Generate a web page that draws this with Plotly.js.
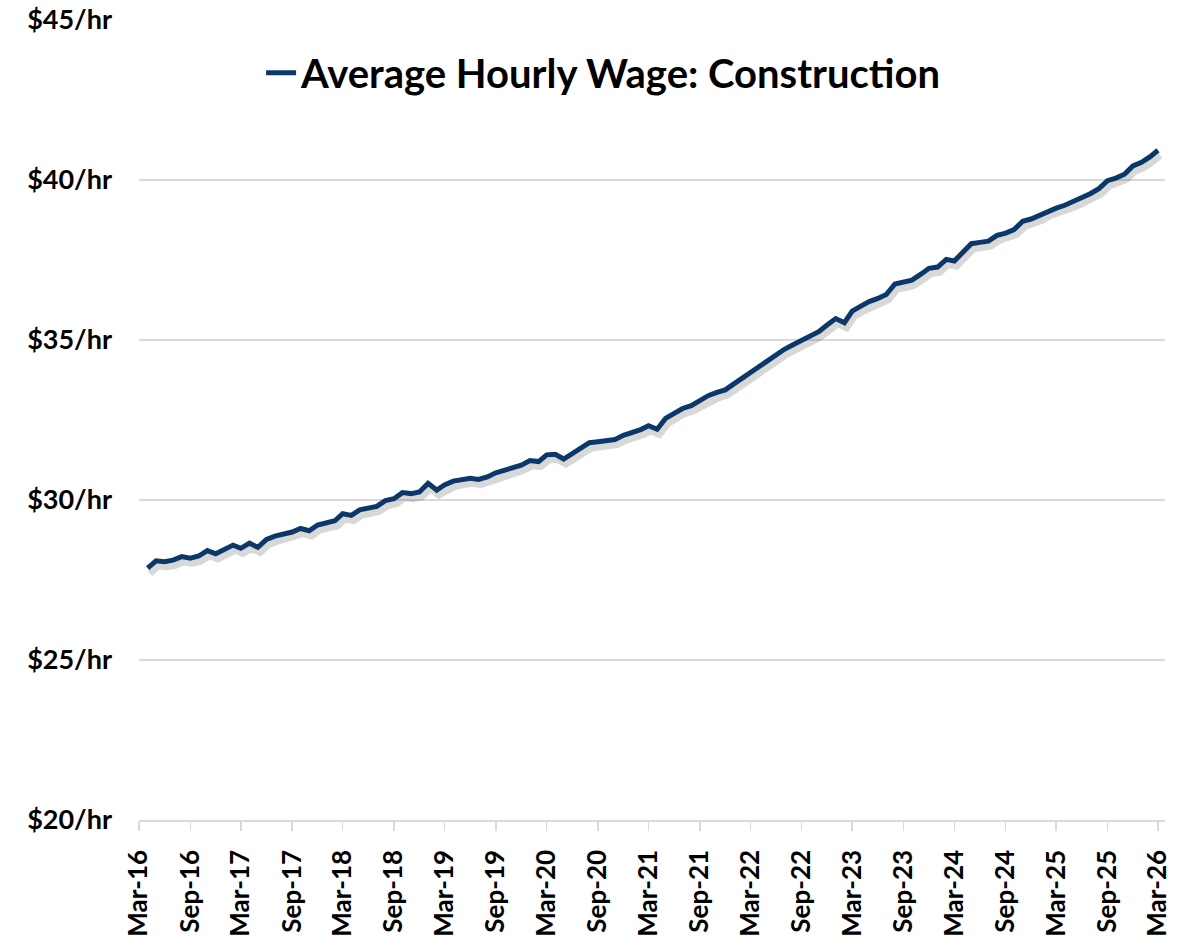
<!DOCTYPE html>
<html>
<head>
<meta charset="utf-8">
<script src="https://cdn.plot.ly/plotly-3.0.1.min.js"></script>
<style>
  html, body { margin: 0; padding: 0; background: #ffffff; }
  #chart { width: 1198px; height: 941px; }
</style>
</head>
<body>
<div id="chart"></div>
<script>
// Monthly observations, Apr-2016 .. Mar-2026
const months = [
  '2016-04','2016-05','2016-06','2016-07','2016-08','2016-09','2016-10','2016-11','2016-12',
  '2017-01','2017-02','2017-03','2017-04','2017-05','2017-06','2017-07','2017-08','2017-09','2017-10','2017-11','2017-12',
  '2018-01','2018-02','2018-03','2018-04','2018-05','2018-06','2018-07','2018-08','2018-09','2018-10','2018-11','2018-12',
  '2019-01','2019-02','2019-03','2019-04','2019-05','2019-06','2019-07','2019-08','2019-09','2019-10','2019-11','2019-12',
  '2020-01','2020-02','2020-03','2020-04','2020-05','2020-06','2020-07','2020-08','2020-09','2020-10','2020-11','2020-12',
  '2021-01','2021-02','2021-03','2021-04','2021-05','2021-06','2021-07','2021-08','2021-09','2021-10','2021-11','2021-12',
  '2022-01','2022-02','2022-03','2022-04','2022-05','2022-06','2022-07','2022-08','2022-09','2022-10','2022-11','2022-12',
  '2023-01','2023-02','2023-03','2023-04','2023-05','2023-06','2023-07','2023-08','2023-09','2023-10','2023-11','2023-12',
  '2024-01','2024-02','2024-03','2024-04','2024-05','2024-06','2024-07','2024-08','2024-09','2024-10','2024-11','2024-12',
  '2025-01','2025-02','2025-03','2025-04','2025-05','2025-06','2025-07','2025-08','2025-09','2025-10','2025-11','2025-12',
  '2026-01','2026-02','2026-03'
];

// Average hourly wage, construction ($/hr) (one row per year)
const wages = [
  27.87, 28.10, 28.07, 28.12, 28.23, 28.18, 28.25, 28.42, 28.32,
  28.45, 28.59, 28.49, 28.65, 28.52, 28.77, 28.87, 28.94, 29.00, 29.11, 29.04, 29.22,
  29.29, 29.35, 29.57, 29.52, 29.69, 29.74, 29.80, 29.98, 30.04, 30.23, 30.20, 30.25,
  30.52, 30.31, 30.47, 30.59, 30.64, 30.68, 30.64, 30.72, 30.85, 30.92, 30.98, 31.09,
  31.23, 31.20, 31.41, 31.43, 31.28, 31.46, 31.62, 31.79, 31.82, 31.84, 31.89, 32.02,
  32.10, 32.20, 32.32, 32.21, 32.55, 32.73, 32.86, 32.95, 33.10, 33.26, 33.36, 33.44,
  33.63, 33.82, 33.96, 34.14, 34.33, 34.52, 34.71, 34.85, 34.98, 35.12, 35.26, 35.47,
  35.67, 35.54, 35.90, 36.06, 36.20, 36.30, 36.42, 36.75, 36.80, 36.87, 37.05, 37.24,
  37.28, 37.52, 37.47, 37.72, 38.01, 38.05, 38.09, 38.27, 38.34, 38.45, 38.71, 38.78,
  38.90, 39.05, 39.12, 39.21, 39.32, 39.45, 39.57, 39.73, 39.98, 40.06, 40.18, 40.44,
  40.55, 40.73, 40.93
];

const seriesName = 'Average Hourly Wage: Construction';

const tickVals = [
  '2016-03-01','2016-09-01','2017-03-01','2017-09-01','2018-03-01','2018-09-01',
  '2019-03-01','2019-09-01','2020-03-01','2020-09-01','2021-03-01','2021-09-01',
  '2022-03-01','2022-09-01','2023-03-01','2023-09-01','2024-03-01','2024-09-01',
  '2025-03-01','2025-09-01','2026-03-01'
];
const tickText = [
  'Mar-16','Sep-16','Mar-17','Sep-17','Mar-18','Sep-18',
  'Mar-19','Sep-19','Mar-20','Sep-20','Mar-21','Sep-21',
  'Mar-22','Sep-22','Mar-23','Sep-23','Mar-24','Sep-24',
  'Mar-25','Sep-25','Mar-26'
];
const yTicks = [20, 25, 30, 35, 40, 45];
const yTickText = ['$20/hr', '$25/hr', '$30/hr', '$35/hr', '$40/hr', '$45/hr'];

const xRange = ['2016-03-01', '2026-03-26'];
const yRange = [20, 45];

const FONT = 'Lato, "Open Sans", "DejaVu Sans", sans-serif';

const shadow = {
  x: months, y: wages, type: 'scatter', mode: 'lines',
  xaxis: 'x2', yaxis: 'y2',
  line: { color: 'rgba(60,60,60,0.20)', width: 7, shape: 'linear' },
  showlegend: false, hoverinfo: 'skip'
};
const main = {
  x: months, y: wages, type: 'scatter', mode: 'lines',
  name: seriesName,
  line: { color: '#0b386a', width: 5 }
};

const layout = {
  width: 1198, height: 941,
  margin: { l: 139, r: 33, t: 20, b: 121 },
  paper_bgcolor: '#ffffff', plot_bgcolor: '#ffffff',
  font: { family: FONT, color: '#000000' },
  showlegend: true,
  legend: {
    x: 0.119, y: 0.934, xanchor: 'left', yanchor: 'middle',
    bgcolor: 'rgba(0,0,0,0)',
    font: { family: FONT, size: 40, color: '#000000', weight: 'bold' }
  },
  xaxis: {
    type: 'date', range: xRange,
    tickmode: 'array', tickvals: tickVals, ticktext: tickText,
    tickangle: -90,
    tickfont: { family: FONT, size: 26, color: '#000000', weight: 'bold' },
    ticks: 'outside', ticklen: 9, tickwidth: 1.5, tickcolor: '#d9d9d9',
    showline: true, linecolor: '#d9d9d9', linewidth: 1.5,
    showgrid: false, zeroline: false,
    ticklabelstandoff: 9
  },
  yaxis: {
    range: yRange,
    tickmode: 'array', tickvals: yTicks, ticktext: yTickText,
    tickfont: { family: FONT, size: 27, color: '#000000', weight: 'bold' },
    showgrid: true, gridcolor: '#d9d9d9', gridwidth: 1.5,
    showline: false, zeroline: false, ticks: '',
    ticklabelstandoff: 26
  },
  xaxis2: {
    type: 'date', overlaying: 'x', visible: false,
    range: ['2016-02-22', '2026-03-18']
  },
  yaxis2: {
    overlaying: 'y', visible: false,
    range: [20.16, 45.16]
  }
};

Plotly.newPlot('chart', [shadow, main], layout, { staticPlot: true, displayModeBar: false });
</script>
</body>
</html>
